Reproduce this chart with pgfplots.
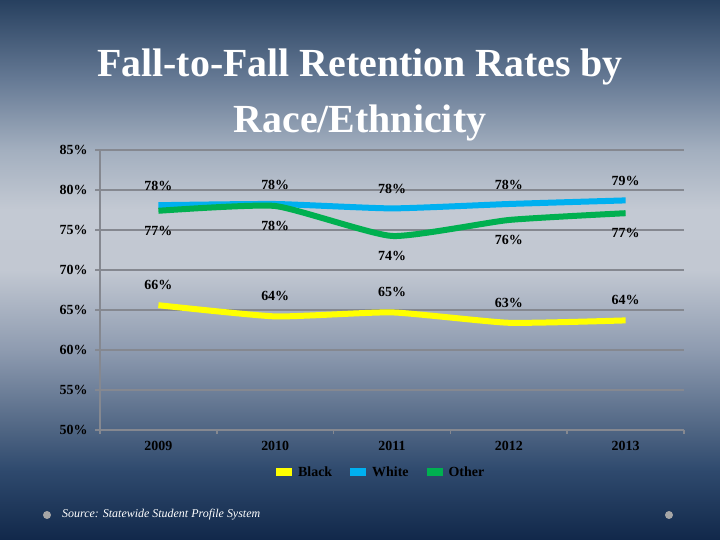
\documentclass[border=0pt]{standalone}
\usepackage{pgfplots}
\pgfplotsset{compat=1.18}
\usepackage{fontspec}
\setmainfont{Liberation Serif}
\definecolor{cBlack}{HTML}{FFFF00}
\definecolor{cWhite}{HTML}{00B0F0}
\definecolor{cOther}{HTML}{00B050}
\definecolor{gridc}{HTML}{858890}
\definecolor{bgA}{HTML}{11284A}
\definecolor{bgB}{HTML}{2F4A6E}
\definecolor{bgC}{HTML}{4F6583}
\definecolor{bgD}{HTML}{8E9BB0}
\definecolor{bgE}{HTML}{C2C8D2}
\definecolor{bgF}{HTML}{C3C9D3}
\definecolor{bgG}{HTML}{A3AFBF}
\definecolor{bgH}{HTML}{667A95}
\definecolor{bgI}{HTML}{27405F}
\pgfdeclareverticalshading{slidebg}{100bp}{color(0bp)=(bgA); color(25bp)=(bgA); color(31.5bp)=(bgB); color(35.2bp)=(bgC); color(42.6bp)=(bgD); color(50bp)=(bgE); color(55.6bp)=(bgF); color(61.1bp)=(bgG); color(67.6bp)=(bgH); color(75bp)=(bgI); color(100bp)=(bgI)}
\pgfplotstableread{
x Black White Other
0 65.6 78.1 77.4
1 64.2 78.25 78.0
2 64.7 77.7 74.25
3 63.4 78.25 76.25
4 63.7 78.7 77.1
}\datatable
\begin{document}
\begin{tikzpicture}[x=1bp,y=1bp]
\useasboundingbox (0,0) rectangle (720,540);
\shade[shading=slidebg] (0,0) rectangle (720,540);
% title
\node[anchor=base, text=white, font=\bfseries\fontsize{40}{44}\selectfont] at (360,463) {Fall-to-Fall Retention Rates by};
\node[anchor=base, text=white, font=\bfseries\fontsize{40}{44}\selectfont] at (360,407) {Race/Ethnicity};
\begin{axis}[
  at={(100bp,110bp)}, anchor=south west,
  scale only axis, width=584bp, height=280bp,
  xmin=-0.5, xmax=4.5, ymin=50, ymax=85,
  xtick={0,1,2,3,4}, xticklabels={2009,2010,2011,2012,2013},
  minor xtick={-0.5,0.5,1.5,2.5,3.5,4.5},
  ytick={50,55,...,85},
  yticklabel={\pgfmathprintnumber{\tick}\%},
  /pgf/number format/assume math mode=true,
  axis x line*=bottom, axis y line*=left,
  axis line style={gridc, line width=1.6bp, -},
  ymajorgrids, grid style={gridc, line width=1.6bp},
  tick align=outside,
  major tick length=5bp, minor tick length=4bp,
  major x tick style={draw=none},
  minor x tick style={gridc, line width=1.6bp},
  major y tick style={gridc, line width=1.6bp},
  ticklabel style={font=\bfseries\fontsize{14}{16}\selectfont, text=black},
  xticklabel style={yshift=-3bp},
  yticklabel style={xshift=-4bp},
  legend style={at={(0.478,-0.15)}, anchor=center, draw=none, fill=none,
    legend columns=3, font=\bfseries\fontsize{14}{16}\selectfont, text=black,
    /tikz/every even column/.append style={column sep=12bp},
    inner sep=0pt},
  legend image code/.code={\draw[#1, line width=8bp] (0bp,0bp) -- (16bp,0bp);},
  nodes near coords={\pgfmathprintnumber[fixed,precision=0]{\pgfplotspointmeta}\%},
  every node near coord/.append style={font=\bfseries\fontsize{14}{16}\selectfont, text=black, anchor=center},
  clip=false,
]
\addplot[cBlack, line width=6bp, smooth, tension=0.3, every node near coord/.append style={yshift=20bp}] table[x=x,y=Black] {\datatable};
\addlegendentry{Black}
\addplot[cWhite, line width=6bp, smooth, tension=0.3, every node near coord/.append style={yshift=19bp}] table[x=x,y=White] {\datatable};
\addlegendentry{White}
\addplot[cOther, line width=6bp, smooth, tension=0.3, every node near coord/.append style={yshift=-20bp}] table[x=x,y=Other] {\datatable};
\addlegendentry{Other}
\end{axis}
% footer
\fill[gray!70] (47,25) circle (4);
\fill[gray!70] (669,25) circle (4);
\node[anchor=west, text=white, font=\itshape\fontsize{12}{14}\selectfont, inner sep=0pt] at (62,25) {Source: Statewide Student Profile System};
\end{tikzpicture}
\end{document}
